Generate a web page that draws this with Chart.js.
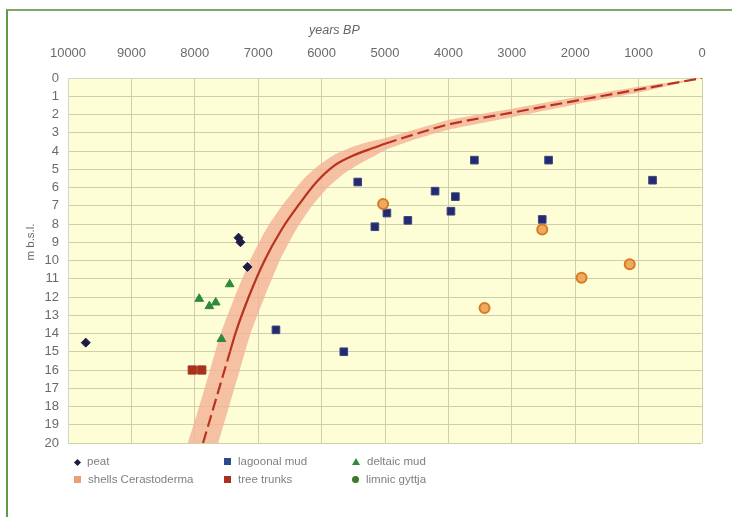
<!DOCTYPE html>
<html>
<head>
<meta charset="utf-8">
<script src="https://cdn.jsdelivr.net/npm/chart.js@4/dist/chart.umd.min.js"></script>
<style>
  html, body { margin: 0; padding: 0; background: #fff; }
  #wrap { position: relative; width: 732px; height: 517px; font-family: "Liberation Sans", Arial, sans-serif; }
  #frame { position: absolute; left: 6px; top: 9px; right: 0; bottom: 0; border-top: 2px solid #7ea86a; border-left: 2px solid #5f9a4a; }
  canvas { position: absolute; left: 0; top: 0; }
  .title { position: absolute; color: #666; font-size: 12.5px; font-style: italic; }
  #ytitle { left: 8px; top: 236px; width: 44px; text-align: center; transform: rotate(-90deg); font-style: normal; font-size: 11.5px; }
  #legend { position: absolute; left: 0; top: 0; }
  .item { position: absolute; font-size: 11.5px; color: #808080; white-space: nowrap; line-height: 13px; }
  .mk { display: inline-block; width: 7px; height: 7px; margin-right: 7px; vertical-align: 0px; }
</style>
</head>
<body>
<div id="wrap">
  <div id="frame"></div>
  <canvas id="chartContainer" width="732" height="517"></canvas>
  <div class="title" style="left:309px; top:23px;">years BP</div>
  <div class="title" id="ytitle">m b.s.l.</div>
  <div id="legend"></div>
</div>
<script>
"use strict";

// 1: data (years BP, depth m b.s.l.)
const xTicks = [10000, 9000, 8000, 7000, 6000, 5000, 4000, 3000, 2000, 1000, 0];
const yTicks = [0, 1, 2, 3, 4, 5, 6, 7, 8, 9, 10, 11, 12, 13, 14, 15, 16, 17, 18, 19, 20];

const peatYears = [9720, 7310, 7280, 7170];
const peatDepth = [14.5, 8.75, 9.0, 10.35];

const lagoonYears = [5430, 4970, 5160, 4640, 4210, 3890, 3960, 3590, 2420, 2520, 780, 6720, 5650];
const lagoonDepth = [5.7, 7.4, 8.15, 7.8, 6.2, 6.5, 7.3, 4.5, 4.5, 7.75, 5.6, 13.8, 15.0];

const deltaYears = [7930, 7770, 7670, 7450, 7580];
const deltaDepth = [12.1, 12.5, 12.3, 11.3, 14.3];

const shellYears = [5030, 2520, 3430, 1900, 1140];
const shellDepth = [6.9, 8.3, 12.6, 10.95, 10.2];

const trunkYears = [8040, 7890];
const trunkDepth = [16, 16];

const gyttjaYears = [];
const gyttjaDepth = [];

// sea level curve
const curveYears = [7870, 7700, 7530, 7445, 7360, 7150, 6900, 6630, 6350, 6080, 5800, 5500, 5200, 5000, 4500, 4000, 3000, 2000, 1000, 0];
const curveDepth = [20, 18, 16, 15, 14, 12, 10, 8.3, 6.9, 5.7, 4.8, 4.25, 3.85, 3.6, 3.05, 2.55, 1.9, 1.25, 0.63, 0];

// error band edges
const bandUpperYears = [8110, 7930, 7760, 7590, 7370, 7130, 6860, 6580, 6300, 6050, 5800, 5500, 5200, 5000, 4500, 4000, 3000, 2000, 1000, 0];
const bandUpperDepth = [20, 18, 16, 14, 12, 10, 8.2, 6.8, 5.6, 4.8, 4.2, 3.75, 3.45, 3.3, 2.8, 2.3, 1.68, 1.05, 0.48, 0];
const bandLowerYears = [7630, 7460, 7290, 7120, 6900, 6660, 6400, 6150, 5900, 5650, 5400, 5150, 5000, 4500, 4000, 3000, 2000, 1000, 0];
const bandLowerDepth = [20, 18, 16, 14, 12, 10, 8.3, 7.0, 6.0, 5.25, 4.7, 4.25, 3.95, 3.33, 2.83, 2.15, 1.45, 0.8, 0];

// 2: prepare data
function toPoints(xs, ys) {
  let pts = [];
  for (let i = 0; i < xs.length; i++) {
    pts.push({ x: xs[i], y: ys[i] });
  }
  return pts;
}

function bandPolygon() {
  let upper = toPoints(bandUpperYears, bandUpperDepth);
  let lower = toPoints(bandLowerYears, bandLowerDepth).reverse();
  return upper.concat(lower);
}

const plotBackground = {
  id: 'plotBackground',
  beforeDraw(chart) {
    const a = chart.chartArea;
    const ctx = chart.ctx;
    ctx.save();
    ctx.fillStyle = '#fdfdd6';
    ctx.fillRect(a.left, a.top, a.right - a.left, a.bottom - a.top);
    ctx.restore();
  }
};

// 3: create chart
function appendChart() {
  const solidFrom = 3;
  const solidTo = 13;
  let chart = new Chart(document.getElementById('chartContainer'), {
    type: 'scatter',
    data: {
      datasets: [{
        label: 'band',
        data: bandPolygon(),
        showLine: true,
        fill: 'shape',
        backgroundColor: 'rgba(244, 176, 150, 0.8)',
        borderWidth: 0,
        pointRadius: 0,
        tension: 0.2,
        order: 10
      }, {
        label: 'curve',
        data: toPoints(curveYears, curveDepth),
        showLine: true,
        borderColor: '#b8331f',
        borderWidth: 2.2,
        pointRadius: 0,
        cubicInterpolationMode: 'monotone',
        segment: {
          borderDash: ctx => (ctx.p0DataIndex < solidFrom || ctx.p0DataIndex >= solidTo) ? [12, 5] : undefined
        },
        order: 9
      }, {
        label: 'peat',
        data: toPoints(peatYears, peatDepth),
        pointStyle: 'rectRot',
        pointRadius: 4.5,
        backgroundColor: '#1c1c44',
        borderColor: '#1c1c44',
        order: 1
      }, {
        label: 'lagoonal mud',
        data: toPoints(lagoonYears, lagoonDepth),
        pointStyle: 'rect',
        pointRadius: 5.4,
        backgroundColor: '#232a6e',
        borderColor: '#3b4586',
        borderWidth: 1,
        order: 2
      }, {
        label: 'deltaic mud',
        data: toPoints(deltaYears, deltaDepth),
        pointStyle: 'triangle',
        pointRadius: 5,
        backgroundColor: '#2f8a3a',
        borderColor: '#2f8a3a',
        order: 1
      }, {
        label: 'shells Cerastoderma',
        data: toPoints(shellYears, shellDepth),
        pointStyle: 'circle',
        pointRadius: 5,
        backgroundColor: '#efaa62',
        borderColor: '#d87a22',
        borderWidth: 2,
        order: 1
      }, {
        label: 'tree trunks',
        data: toPoints(trunkYears, trunkDepth),
        pointStyle: 'rect',
        pointRadius: 5.8,
        backgroundColor: '#a8321e',
        borderColor: '#a8321e',
        order: 1
      }, {
        label: 'limnic gyttja',
        data: toPoints(gyttjaYears, gyttjaDepth),
        pointStyle: 'circle',
        pointRadius: 4,
        backgroundColor: '#3a7a2a',
        order: 1
      }]
    },
    options: {
      responsive: false,
      animation: false,
      layout: { padding: { left: 0, top: 0, right: 30, bottom: 74 } },
      plugins: {
        legend: { display: false },
        tooltip: { enabled: false }
      },
      scales: {
        x: {
          type: 'linear',
          position: 'top',
          reverse: true,
          min: 0,
          max: 10000,
          afterFit: s => { s.height = 78; },
          afterBuildTicks: s => { s.ticks = xTicks.map(v => ({ value: v })); },
          grid: { color: '#cfcfae', drawTicks: false },
          border: { color: '#d8d8c0' },
          ticks: {
            autoSkip: false,
            maxRotation: 0,
            padding: 17,
            color: '#6a6a6a',
            font: { family: 'Liberation Sans', size: 13 },
            callback: v => String(v)
          }
        },
        y: {
          type: 'linear',
          reverse: true,
          min: 0,
          max: 20,
          afterFit: s => { s.width = 68; },
          afterBuildTicks: s => { s.ticks = yTicks.map(v => ({ value: v })); },
          grid: { color: '#cfcfae', drawTicks: false },
          border: { color: '#d8d8c0' },
          ticks: {
            autoSkip: false,
            padding: 9,
            color: '#6a6a6a',
            font: { family: 'Liberation Sans', size: 13 },
            callback: v => String(v)
          }
        }
      }
    },
    plugins: [plotBackground]
  });
  return chart;
}

// 4: html legend in three columns
function appendLegend(chart) {
  const cols = [74, 224, 352];
  const rows = [455, 473];
  const order = ['peat', 'lagoonal mud', 'deltaic mud', 'shells Cerastoderma', 'tree trunks', 'limnic gyttja'];
  const marks = {
    'peat': 'background:#1c1c44; transform:rotate(45deg); width:5px; height:5px; margin-left:1px;',
    'lagoonal mud': 'background:#2b4a8c;',
    'deltaic mud': 'width:0; height:0; background:none; border-left:4px solid transparent; border-right:4px solid transparent; border-bottom:7px solid #2f8a3a;',
    'shells Cerastoderma': 'background:#eaa070;',
    'tree trunks': 'background:#a8321e;',
    'limnic gyttja': 'background:#3a7a2a; border-radius:50%;'
  };
  const legend = document.getElementById('legend');
  order.forEach((name, i) => {
    const ds = chart.data.datasets.find(d => d.label === name);
    const div = document.createElement('div');
    div.className = 'item';
    div.style.left = cols[i % 3] + 'px';
    div.style.top = rows[Math.floor(i / 3)] + 'px';
    div.innerHTML = '<span class="mk" style="' + marks[name] + '"></span>' + ds.label;
    legend.appendChild(div);
  });
}

appendLegend(appendChart());
</script>
</body>
</html>
